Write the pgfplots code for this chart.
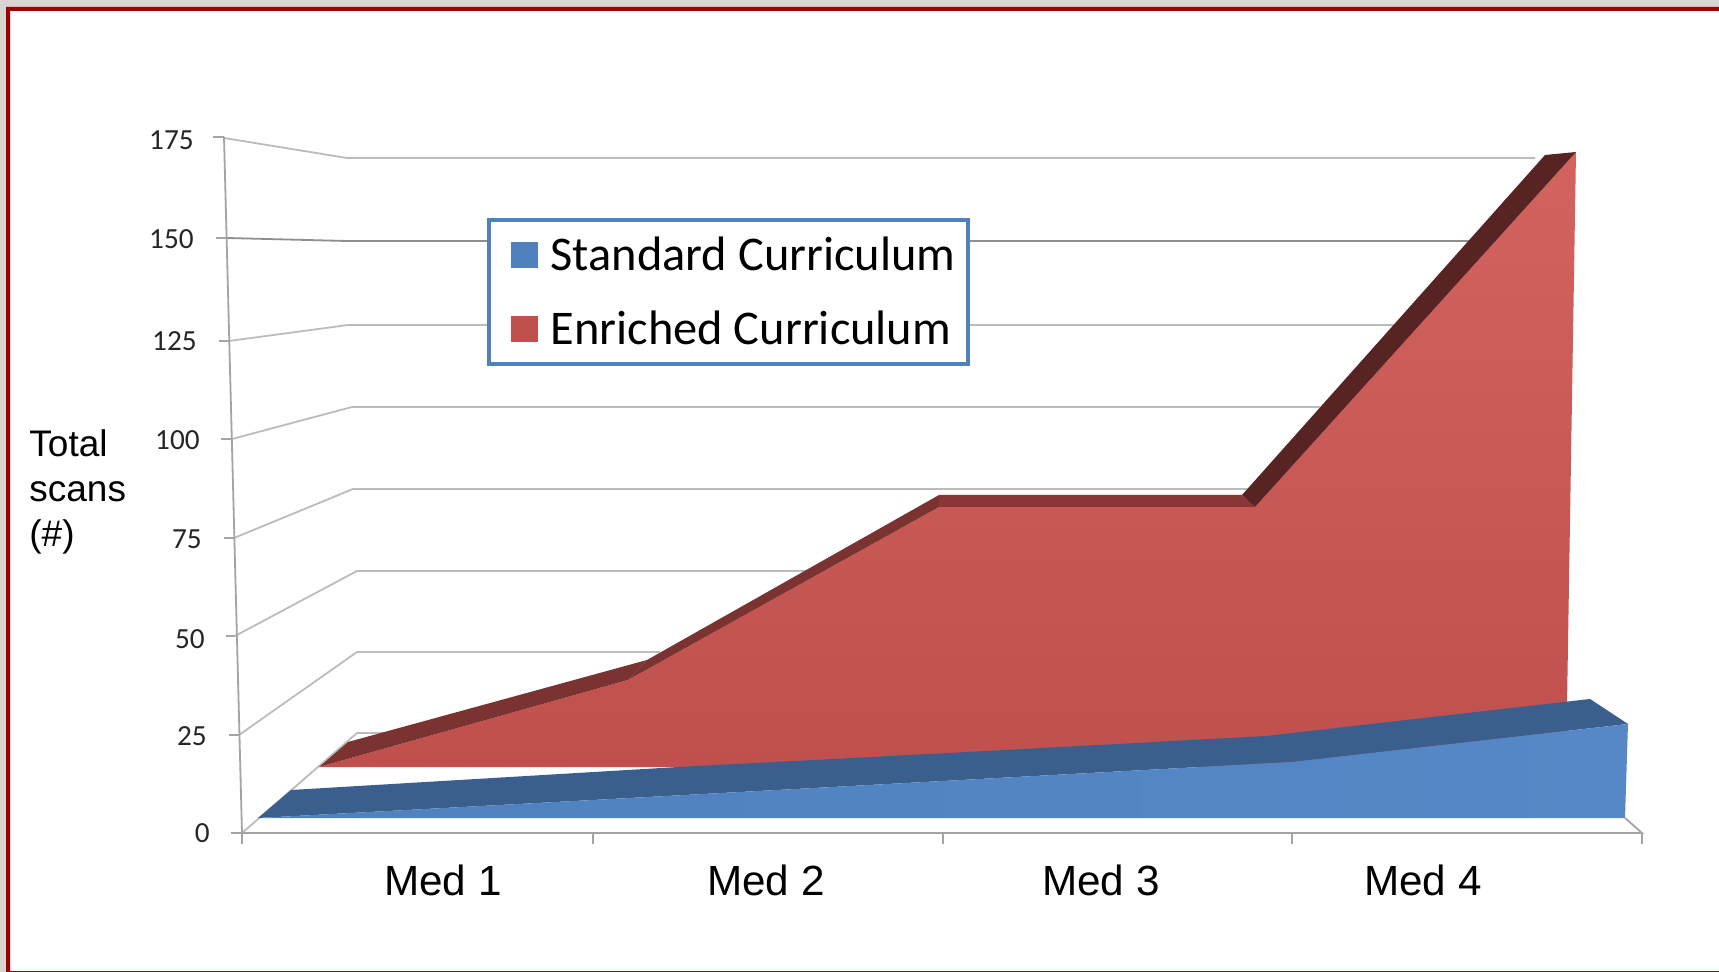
\documentclass[border=0pt]{standalone}
\usepackage{fontspec}
\setmainfont{Liberation Sans}
\newfontfamily\calibri{Carlito}
\usepackage{pgfplots}
\pgfplotsset{compat=1.18}
\definecolor{pageframe}{HTML}{A00000}
\definecolor{pagegray}{HTML}{D9D5D2}
\definecolor{grid}{HTML}{BCBCBC}
\definecolor{griddk}{HTML}{8E8E8E}
\definecolor{axisgray}{HTML}{A4A4A4}
\definecolor{bluefront}{HTML}{4F81BD}
\definecolor{bluefrontb}{HTML}{5688C7}
\definecolor{bluetop}{HTML}{3B5F8C}
\definecolor{redfront}{HTML}{C0504D}
\definecolor{redfrontb}{HTML}{D3635F}
\definecolor{redtopa}{HTML}{7B3332}
\definecolor{redtopb}{HTML}{8A3635}
\definecolor{redtopc}{HTML}{582323}
\pgfplotsset{
  poly/.style={forget plot,no markers,draw=none,fill=#1},
  ln/.style={forget plot,no markers,draw=#1,line width=0.9pt},
}
\newcommand{\ytl}[3]{\node[inner sep=0pt,anchor=base east,font=\calibri\fontsize{14.6}{15}\selectfont,text=black!85] at (axis cs:#1,#2) {#3};}
\newcommand{\xtl}[2]{\node[inner sep=0pt,anchor=base,font=\fontsize{21.1}{22}\selectfont] at (axis cs:#1,895) {#2};}
\begin{document}
\begin{tikzpicture}
% the whole picture is in image pixels: the chart is a projected 3D area chart
\begin{axis}[
  scale only axis, width=859.5pt, height=486pt,
  xmin=0, xmax=1719, ymin=0, ymax=972, y dir=reverse,
  hide axis, clip=true,
  legend cell align=left,
  legend image code/.code={\path (0pt,0pt) (24.3pt,0pt);\fill[#1] (6.5pt,-6.5pt) rectangle (20pt,6.5pt);},
  legend style={at={(axis cs:487,218)}, anchor=north west, draw=bluefront, line width=2pt,
    fill=white, font=\calibri\fontsize{24.2}{25}\selectfont, row sep=14.5pt,
    inner xsep=4.5pt, inner ysep=6.5pt},
]
% page
\addplot[poly=white] coordinates {(0,0)(1719,0)(1719,972)(0,972)(0,0)};
\addplot[poly=pagegray] coordinates {(0,0)(1719,0)(1719,7)(6,7)(6,972)(0,972)(0,0)};
\addplot[poly=pageframe] coordinates {(6,7)(1719,7)(1719,11)(10,11)(10,971)(1719,971)(1719,972)(6,972)(6,7)};
% side wall and back wall gridlines
\addplot[ln=grid] coordinates {(224,138)(347,158)(1535,158)};
\addplot[ln=griddk] coordinates {(227,238)(347,241)(1470,241)};
\addplot[ln=grid] coordinates {(229,341)(348,325)(1400,325)};
\addplot[ln=grid] coordinates {(232,439)(352,407)(1320,407)};
\addplot[ln=grid] coordinates {(234,538)(353,489)(1250,489)};
\addplot[ln=grid] coordinates {(235,636)(357,571)(900,571)};
\addplot[ln=grid] coordinates {(239,735)(357,652)(660,652)};
\addplot[ln=grid] coordinates {(242,833)(357,733)(400,733)};
% value axis with ticks
\addplot[ln=axisgray] coordinates {(224,137)(242,833)};
\addplot[ln=axisgray] coordinates {(213,137)(224,137)};
\addplot[ln=axisgray] coordinates {(216,238)(227,238)};
\addplot[ln=axisgray] coordinates {(219,341)(229,341)};
\addplot[ln=axisgray] coordinates {(221,439)(232,439)};
\addplot[ln=axisgray] coordinates {(224,538)(234,538)};
\addplot[ln=axisgray] coordinates {(226,636)(235,636)};
\addplot[ln=axisgray] coordinates {(229,735)(239,735)};
\addplot[ln=axisgray] coordinates {(231,833)(242,833)};
% floor edge with ticks
\addplot[ln=axisgray] coordinates {(231,833)(1642,833)(1625,818)};
\addplot[ln=axisgray] coordinates {(242,833)(242,844)};
\addplot[ln=axisgray] coordinates {(593,833)(593,844)};
\addplot[ln=axisgray] coordinates {(943,833)(943,844)};
\addplot[ln=axisgray] coordinates {(1292,833)(1292,844)};
\addplot[ln=axisgray] coordinates {(1642,833)(1642,844)};
% enriched curriculum: front face, then the top strip
\addplot[forget plot,no markers,draw=none,shade,top color=redfrontb,bottom color=redfront]
  coordinates {(319,767)(628,680)(939,507)(1255,507)(1576,152)(1566,767)(319,767)};
\addplot[poly=redtopa] coordinates {(319,767)(628,680)(647,660)(348,742)(319,767)};
\addplot[poly=redtopa] coordinates {(628,680)(939,507)(939,495)(647,660)(628,680)};
\addplot[poly=redtopb] coordinates {(939,507)(1255,507)(1242,495)(939,495)(939,507)};
\addplot[poly=redtopc] coordinates {(1255,507)(1576,152)(1545,155)(1242,495)(1255,507)};
% standard curriculum: top strip, then the front face
\addplot[poly=bluetop] coordinates {(258,818)(593,800)(943,781)(1292,762)(1628,724)(1590,699)(1266,736)(930,754)(678,767)(291,790)(258,818)};
\addplot[forget plot,no markers,draw=none,shade,left color=bluefront,right color=bluefrontb]
  coordinates {(258,818)(593,800)(943,781)(1292,762)(1628,724)(1625,818)(258,818)};
% legend
\addlegendimage{fill=bluefront,draw=none}
\addlegendentry{Standard Curriculum}
\addlegendimage{fill=redfront,draw=none}
\addlegendentry{Enriched Curriculum}
% value tick labels
\ytl{194}{150}{175}
\ytl{194}{249}{150}
\ytl{197}{351}{125}
\ytl{200}{450}{100}
\ytl{202}{549}{75}
\ytl{205}{648}{50}
\ytl{207}{745}{25}
\ytl{210}{842}{0}
% categories
\xtl{443}{Med 1}
\xtl{766}{Med 2}
\xtl{1101}{Med 3}
\xtl{1423}{Med 4}
% value axis title
\node[inner sep=0pt,anchor=base west,font=\fontsize{18.5}{19}\selectfont] at (axis cs:29,457) {Total};
\node[inner sep=0pt,anchor=base west,font=\fontsize{18.5}{19}\selectfont] at (axis cs:29,502) {scans};
\node[inner sep=0pt,anchor=base west,font=\fontsize{18.5}{19}\selectfont] at (axis cs:29,547) {(\#)};
\end{axis}
\end{tikzpicture}
\end{document}
